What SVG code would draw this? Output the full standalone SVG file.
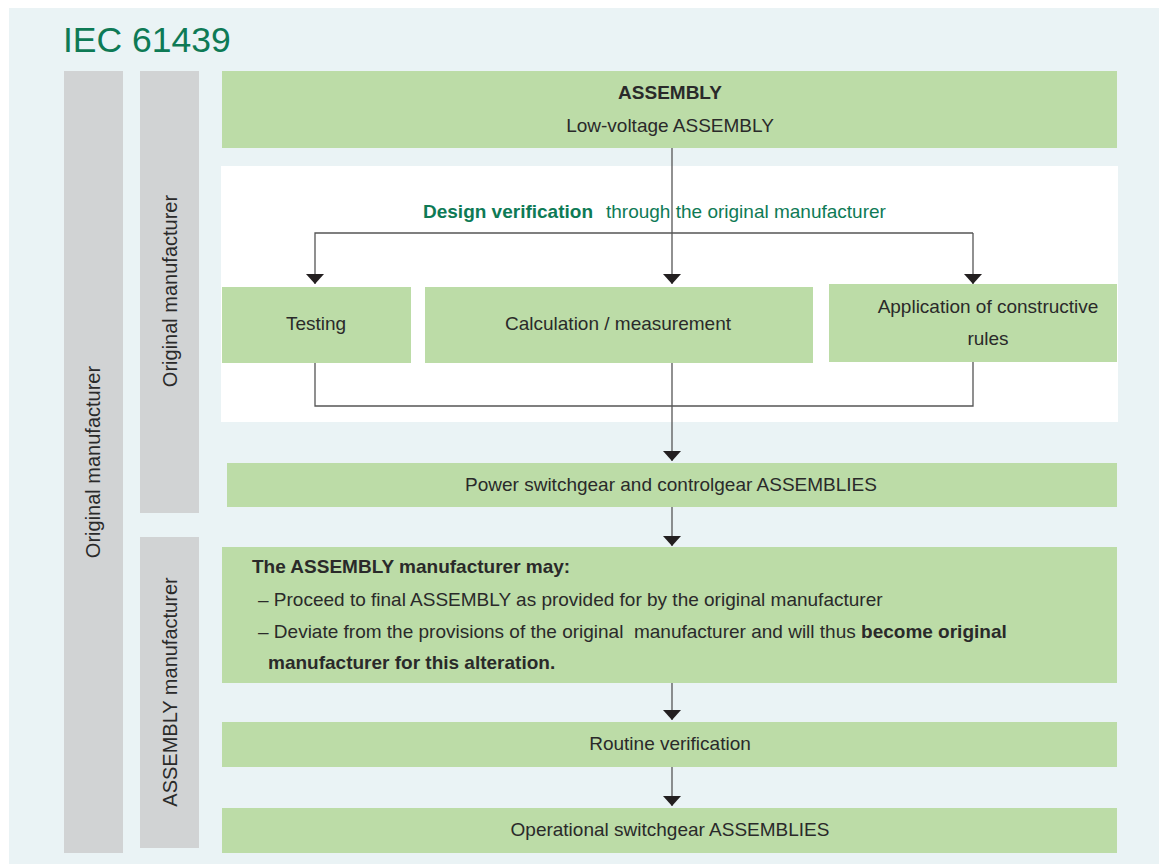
<svg xmlns="http://www.w3.org/2000/svg" width="1159" height="864" viewBox="0 0 1159 864">
<defs>
<style>
.bg{fill:#EAF3F5}
.gray{fill:#D1D3D4}
.box{fill:#BCDCA7}
.panel{fill:#FFFFFF}
.t{font-family:"Liberation Sans",Arial,sans-serif;font-size:19px;fill:#2A2A2A}
.r{font-size:20px}
.c{text-anchor:middle}
.b{font-weight:bold}
.g{fill:#0E7A55}
.line{fill:none;stroke:#555555;stroke-width:1.3}
</style>
<marker id="arr" markerUnits="userSpaceOnUse" markerWidth="12" markerHeight="20" refX="10" refY="9" orient="auto" viewBox="0 0 12 20">
<path d="M0,0 L10,9 L0,18 Z" fill="#231F20"/>
</marker>
</defs>
<rect class="bg" x="9" y="8" width="1150" height="856"/>
<text x="63" y="52" style="font-family:'Liberation Sans',Arial,sans-serif;font-size:35.5px;fill:#0E7A55">IEC 61439</text>

<g id="side-original">
<rect class="gray" x="64" y="71" width="59" height="782"/>
<text class="t r c" transform="translate(100,462) rotate(-90)">Original manufacturer</text>
</g>
<g id="side-original-2">
<rect class="gray" x="140" y="71" width="59" height="442"/>
<text class="t r c" transform="translate(177,291) rotate(-90)">Original manufacturer</text>
</g>
<g id="side-assembly">
<rect class="gray" x="140" y="537" width="59" height="311"/>
<text class="t r c" transform="translate(177,692) rotate(-90)">ASSEMBLY manufacturer</text>
</g>

<rect class="panel" x="221" y="166" width="897" height="256"/>

<g id="assembly">
<rect class="box" x="222" y="71" width="895" height="77"/>
<text class="t c b" x="670" y="99">ASSEMBLY</text>
<text class="t c" x="670" y="132">Low-voltage ASSEMBLY</text>
</g>

<g id="design-verification">
<text class="t" x="423" y="218"><tspan class="g b">Design verification</tspan><tspan class="g" x="606">through the original manufacturer</tspan></text>
</g>

<g id="testing">
<rect class="box" x="222" y="287" width="189" height="76"/>
<text class="t c" x="316" y="330">Testing</text>
</g>
<g id="calculation">
<rect class="box" x="425" y="287" width="388" height="76"/>
<text class="t c" x="618" y="330">Calculation / measurement</text>
</g>
<g id="constructive-rules">
<rect class="box" x="829" y="284" width="288" height="78"/>
<text class="t c" x="988" y="313">Application of constructive</text>
<text class="t c" x="988" y="345">rules</text>
</g>

<g id="power">
<rect class="box" x="227" y="463" width="890" height="44"/>
<text class="t c" x="671" y="491">Power switchgear and controlgear ASSEMBLIES</text>
</g>

<g id="manufacturer-may">
<rect class="box" x="222" y="547" width="895" height="136"/>
<text class="t b" x="252" y="573">The ASSEMBLY manufacturer may:</text>
<text class="t" x="258" y="606">– Proceed to final ASSEMBLY as provided for by the original manufacturer</text>
<text class="t" x="258" y="638" xml:space="preserve">– Deviate from the provisions of the original  manufacturer and will thus <tspan class="b">become original</tspan></text>
<text class="t b" x="268" y="669">manufacturer for this alteration.</text>
</g>

<g id="routine">
<rect class="box" x="222" y="722" width="895" height="45"/>
<text class="t c" x="670" y="750">Routine verification</text>
</g>

<g id="operational">
<rect class="box" x="222" y="808" width="895" height="45"/>
<text class="t c" x="670" y="836">Operational switchgear ASSEMBLIES</text>
</g>

<g id="connectors">
<path class="line" d="M672,148 V284" marker-end="url(#arr)"/>
<path class="line" d="M973,233 H315 V284" marker-end="url(#arr)"/>
<path class="line" d="M973,233 V284" marker-end="url(#arr)"/>
<path class="line" d="M315,363 V406 H973 V362"/>
<path class="line" d="M672,363 V461" marker-end="url(#arr)"/>
<path class="line" d="M672,507 V546" marker-end="url(#arr)"/>
<path class="line" d="M672,683 V720" marker-end="url(#arr)"/>
<path class="line" d="M672,767 V806" marker-end="url(#arr)"/>
</g>
</svg>
